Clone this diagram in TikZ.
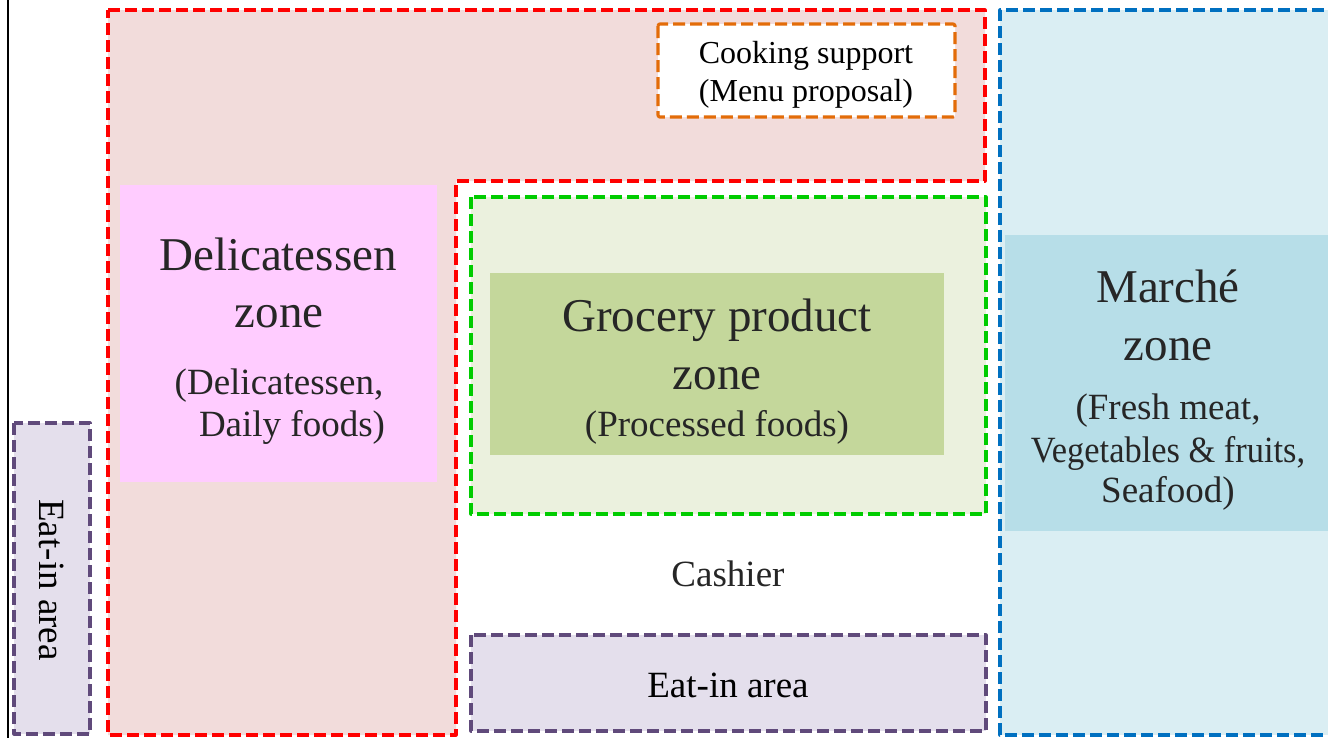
\documentclass[tikz,border=0pt]{standalone}
\usepackage{fontspec}
\setmainfont{Liberation Serif}
\definecolor{redline}{HTML}{FF0000}
\definecolor{redfill}{HTML}{F2DCDB}
\definecolor{blueline}{HTML}{0070C0}
\definecolor{bluefill}{HTML}{DAEEF3}
\definecolor{marchefill}{HTML}{B7DEE8}
\definecolor{greenline}{HTML}{00CC00}
\definecolor{greenfill}{HTML}{EBF1DE}
\definecolor{groceryfill}{HTML}{C4D79B}
\definecolor{purpleline}{HTML}{604A7B}
\definecolor{purplefill}{HTML}{E4DFEC}
\definecolor{delifill}{HTML}{FFCCFF}
\definecolor{orangeline}{HTML}{E36C09}
\definecolor{txt}{HTML}{262626}
\tikzset{
  zoneline/.style={line width=3.2pt, dash pattern=on 12pt off 5pt, line join=round},
  bigtxt/.style={anchor=base, inner sep=0pt, text=txt, font=\fontsize{47}{56}\selectfont},
  subtxt/.style={anchor=base, inner sep=0pt, text=txt, font=\fontsize{37}{44}\selectfont},
  smalltxt/.style={anchor=base, inner sep=0pt, text=black, font=\fontsize{32}{38}\selectfont},
}
\begin{document}
\begin{tikzpicture}[x=1pt, y=-1pt]
\useasboundingbox (0,0) rectangle (1328,737);
\fill[white] (0,0) rectangle (1328,737);
% black frame line
\draw[line width=2pt, black] (8,-2) -- (8,740);
% red L-shaped zone
\draw[zoneline, draw=redline, fill=redfill]
  (108,10) -- (985,10) -- (985,181) -- (456,181) -- (456,735) -- (108,735) -- cycle;
% blue marche zone
\draw[zoneline, draw=blueline, fill=bluefill] (1340,735) -- (1000,735) -- (1000,10) -- (1340,10);
\fill[marchefill] (1005,235) rectangle (1330,531);
% cooking support
\draw[zoneline, draw=orangeline, fill=white, rounded corners=2pt] (658,24) rectangle (955,117);
% delicatessen
\fill[delifill] (120,185) rectangle (437,482);
% grocery
\draw[zoneline, draw=greenline, fill=greenfill] (471,197) rectangle (986,514);
\fill[groceryfill] (490,273) rectangle (944,455);
% eat-in areas
\draw[zoneline, draw=purpleline, fill=purplefill] (14,423) rectangle (90,734);
\draw[zoneline, draw=purpleline, fill=purplefill] (471,635) rectangle (986,731);
% texts
\node[smalltxt] (cook1) at (806,63) {Cooking support};
\node[smalltxt] (cook2) at (806,101.5) {(Menu proposal)};
\node[bigtxt] (deli1) at (278,270) {Delicatessen};
\node[bigtxt] (deli2) at (279,327.5) {zone};
\node[subtxt] (deli3) at (279,394) {(Delicatessen,};
\node[subtxt] (deli4) at (292,436) {Daily foods)};
\node[bigtxt] (groc1) at (717,331) {Grocery product};
\node[bigtxt] (groc2) at (717,389) {zone};
\node[subtxt] (groc3) at (717,436) {(Processed foods)};
\node[subtxt] (cash) at (728,586) {Cashier};
\node[subtxt, text=black] (eat2) at (728,697.5) {Eat-in area};
\node[bigtxt] (mar1) at (1168,302) {Marché};
\node[bigtxt] (mar2) at (1168,360) {zone};
\node[subtxt] (mar3) at (1168,419.5) {(Fresh meat,};
\node[subtxt] (mar4) at (1168,462) {\scalebox{0.93}[1]{Vegetables \& fruits,}};
\node[subtxt] (mar5) at (1168,502.5) {Seafood)};
\node[inner sep=0pt, text=black, font=\fontsize{37}{44}\selectfont, rotate=-90] (eat1) at (52,580) {Eat-in area};
\end{tikzpicture}
\end{document}
